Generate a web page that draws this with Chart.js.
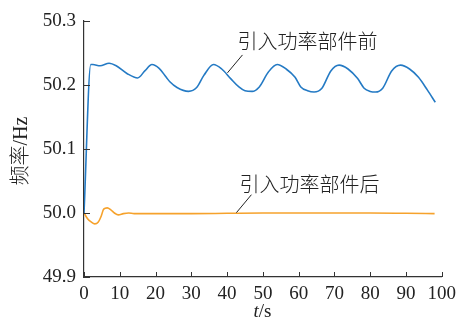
<!DOCTYPE html>
<html>
<head>
<meta charset="utf-8">
<script src="https://cdn.jsdelivr.net/npm/chart.js@4.4.1/dist/chart.umd.min.js"></script>
<style>
  html, body { margin: 0; padding: 0; background: #fff; }
  #wrap { width: 462px; height: 324px; }
</style>
</head>
<body>
<div id="wrap"><canvas id="freq"></canvas></div>
<script>
// frequency before / after the power unit is added
const T_BEFORE = [0, 1.9, 2.5, 4.5, 7, 9, 12, 15, 17, 19, 21, 23, 24, 26, 29.2, 31.5, 33.5, 36.2, 38.5, 41, 43.3, 45, 47, 49, 51.5, 54, 56.5, 59, 60.6, 62.5, 64.3, 66.5, 69, 71.3, 73.8, 76.5, 78.3, 80, 81.5, 83.5, 86, 88.5, 91, 93.5, 96, 98.2];
const F_BEFORE = [50.0, 50.232, 50.232, 50.230, 50.234, 50.230, 50.218, 50.211, 50.222, 50.232, 50.226, 50.212, 50.205, 50.196, 50.190, 50.196, 50.215, 50.232, 50.225, 50.210, 50.197, 50.191, 50.190, 50.197, 50.220, 50.232, 50.225, 50.212, 50.197, 50.191, 50.189, 50.195, 50.222, 50.231, 50.225, 50.210, 50.195, 50.190, 50.189, 50.195, 50.222, 50.231, 50.225, 50.212, 50.192, 50.173];

const T_AFTER = [0, 1, 2, 3, 4, 4.8, 5.5, 6.5, 7.5, 8.5, 9.6, 11, 12.5, 14, 20, 30, 40, 50, 60, 70, 80, 90, 98];
const F_AFTER = [50.0, 49.991, 49.986, 49.983, 49.986, 49.995, 50.006, 50.008, 50.005, 50.0, 49.997, 49.999, 50.0, 49.999, 49.999, 49.999, 49.9995, 50.0, 50.0, 50.0, 50.0, 49.9995, 49.999];

const X_TICKS = [0, 10, 20, 30, 40, 50, 60, 70, 80, 90, 100];
const Y_TICKS = [49.9, 50.0, 50.1, 50.2, 50.3];

const SERIES_NAMES = ['引入功率部件前', '引入功率部件后'];

// callouts: text anchor and leader line, in data units
const CALLOUTS = [
  { text: SERIES_NAMES[0], at: [42.9, 50.268], from: [40.1, 50.219], to: [44.3, 50.247] },
  { text: SERIES_NAMES[1], at: [43.5, 50.044], from: [42.6, 50.0005], to: [46.8, 50.0286] },
];

const BLUE = 'rgb(36,122,196)';
const ORANGE = 'rgb(246,162,44)';
const AXIS = '#333';
const SERIF = "'Liberation Serif', 'Noto Sans CJK SC', serif";
const CJK = "'Noto Sans CJK SC', sans-serif";

const toXY = (xs, ys) => xs.map((x, i) => ({ x, y: ys[i] }));

// inward ticks, axis titles, callouts
const decor = {
  id: 'decor',
  afterDraw(chart) {
    const { ctx, chartArea: a, scales: { x, y } } = chart;
    ctx.save();
    ctx.strokeStyle = AXIS;
    ctx.lineWidth = 1;
    ctx.beginPath();
    X_TICKS.forEach(v => {
      const px = Math.round(x.getPixelForValue(v)) + 0.5;
      ctx.moveTo(px, a.bottom); ctx.lineTo(px, a.bottom - 5);
    });
    Y_TICKS.forEach(v => {
      const py = Math.round(y.getPixelForValue(v)) + 0.5;
      ctx.moveTo(a.left, py); ctx.lineTo(a.left + 6, py);
    });
    ctx.stroke();

    // x title: italic t + /s
    ctx.fillStyle = '#222';
    ctx.textBaseline = 'middle';
    const cx = (a.left + a.right) / 2 - 0.5;
    ctx.font = "italic 19px 'Liberation Serif', serif";
    const wt = ctx.measureText('t').width;
    ctx.font = "19px 'Liberation Serif', serif";
    const ws = ctx.measureText('/s').width;
    let sx = cx - (wt + ws) / 2;
    ctx.textAlign = 'left';
    ctx.font = "italic 19px 'Liberation Serif', serif";
    ctx.fillText('t', sx, 312);
    ctx.font = "19px 'Liberation Serif', serif";
    ctx.fillText('/s', sx + wt, 312);

    // y title
    ctx.save();
    ctx.translate(22, (a.top + a.bottom) / 2 + 2);
    ctx.rotate(-Math.PI / 2);
    ctx.textAlign = 'center';
    ctx.font = "300 20px " + SERIF;
    ctx.fillText('频率/Hz', 0, 0);
    ctx.restore();

    // callouts
    ctx.strokeStyle = '#222';
    ctx.lineWidth = 1;
    CALLOUTS.forEach(c => {
      ctx.beginPath();
      ctx.moveTo(x.getPixelForValue(c.from[0]), y.getPixelForValue(c.from[1]));
      ctx.lineTo(x.getPixelForValue(c.to[0]), y.getPixelForValue(c.to[1]));
      ctx.stroke();
      ctx.font = "300 20px " + CJK;
      ctx.textAlign = 'left';
      ctx.fillText(c.text, x.getPixelForValue(c.at[0]), y.getPixelForValue(c.at[1]));
    });
    ctx.restore();
  }
};

new Chart(document.getElementById('freq'), {
  type: 'line',
  data: {
    datasets: [
      { label: SERIES_NAMES[0], data: toXY(T_BEFORE, F_BEFORE), borderColor: BLUE, borderWidth: 1.6, pointRadius: 0, cubicInterpolationMode: 'monotone', fill: false },
      { label: SERIES_NAMES[1], data: toXY(T_AFTER, F_AFTER), borderColor: ORANGE, borderWidth: 1.6, pointRadius: 0, cubicInterpolationMode: 'monotone', fill: false },
    ]
  },
  options: {
    responsive: true,
    maintainAspectRatio: false,
    animation: false,
    events: [],
    layout: { padding: { left: 0, right: 19, top: 21, bottom: 0 } },
    plugins: { legend: { display: false }, tooltip: { enabled: false } },
    scales: {
      x: {
        type: 'linear', min: 0, max: 100,
        grid: { display: false, drawTicks: false },
        border: { display: true, color: AXIS, width: 1.2 },
        afterBuildTicks: s => { s.ticks = X_TICKS.map(v => ({ value: v })); },
        afterFit: s => { s.height = 47; },
        ticks: { color: '#222', padding: 6, maxRotation: 0, font: { family: SERIF, size: 19 }, callback: v => String(v) }
      },
      y: {
        type: 'linear', min: 49.9, max: 50.3,
        grid: { display: false, drawTicks: false },
        border: { display: true, color: AXIS, width: 1.2 },
        afterBuildTicks: s => { s.ticks = Y_TICKS.map(v => ({ value: v })); },
        afterFit: s => { s.width = 84; },
        ticks: { color: '#222', padding: 8, font: { family: SERIF, size: 19 }, callback: v => v.toFixed(1) }
      }
    }
  },
  plugins: [decor]
});
</script>
</body>
</html>
